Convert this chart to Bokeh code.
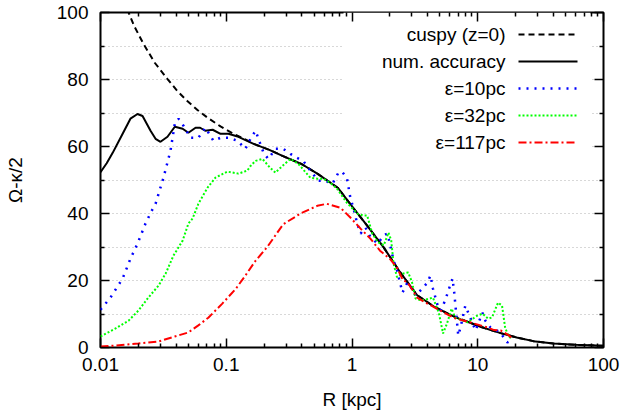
from bokeh.plotting import figure
from bokeh.models import Range1d, FixedTicker, LogAxis, LinearAxis, Label, Arrow, BoxAnnotation
from bokeh.embed import file_html
from bokeh.resources import INLINE

# ---------------- data ----------------
R_cuspy = [0.0163, 0.0185, 0.022, 0.027, 0.034, 0.041, 0.049, 0.059, 0.071, 0.09, 0.114, 0.14, 0.165,
           0.22, 0.28, 0.40, 0.53, 0.77, 1.03, 1.32, 1.79, 2.1, 2.42, 3.3, 4.45, 6.0, 8.3, 10.5,
           15.2, 20.4, 27.7, 40, 60, 100]
y_cuspy = [101.0, 96.0, 90.6, 85.0, 80.2, 76.5, 73.6, 70.9, 68.6, 66.0, 63.8, 62.2, 60.8,
           59.0, 57.2, 54.7, 51.9, 47.7, 41.5, 36.4, 29.8, 25.9, 22.4, 15.6, 12.3, 9.8, 7.7, 6.2,
           4.3, 3.0, 1.9, 1.2, 0.8, 0.5]

R_acc = [0.01, 0.0112, 0.0125, 0.015, 0.0173, 0.0197, 0.0216, 0.025, 0.0274, 0.030, 0.0341, 0.039,
         0.045, 0.050, 0.057, 0.062, 0.068, 0.078, 0.090, 0.104, 0.125, 0.165,
         0.22, 0.28, 0.40, 0.53, 0.77, 1.03, 1.32, 1.79, 2.1, 2.42, 3.3, 4.45, 5.06, 6.0, 7.3, 8.3, 10.5,
         15.2, 20.4, 27.7, 40, 60, 100]
y_acc = [52.3, 55.0, 58.1, 63.8, 68.3, 69.7, 69.1, 64.7, 62.3, 61.4, 62.9, 65.9,
         65.3, 64.1, 65.6, 65.6, 64.7, 65.0, 63.8, 63.8, 62.9, 60.8,
         59.0, 57.2, 54.7, 51.9, 47.7, 41.5, 36.4, 29.8, 25.9, 22.4, 15.6, 12.3, 11.2, 9.8, 8.4, 7.7, 6.2,
         4.3, 3.0, 1.9, 1.2, 0.8, 0.5]

R_e10 = [0.01, 0.012, 0.015, 0.0173, 0.0197, 0.0228, 0.0255, 0.0274, 0.0317, 0.036, 0.039, 0.0417,
         0.0457, 0.0519, 0.060, 0.0684, 0.079, 0.090, 0.104, 0.123, 0.142, 0.156, 0.171, 0.198,
         0.216, 0.246, 0.284, 0.324, 0.366, 0.41, 0.466, 0.54, 0.61, 0.70, 0.78, 0.83, 0.91,
         0.97, 1.03, 1.10, 1.17, 1.28, 1.4, 1.6, 1.79, 1.91, 2.0, 2.14, 2.28, 2.42, 2.52, 2.76,
         3.0, 3.2, 3.69, 3.98, 4.21, 4.4, 4.8, 5.06, 5.5, 6.1, 6.3, 6.5, 6.9, 7.0, 7.3, 7.96,
         8.4, 9.6, 10.9, 11.5, 12.6, 15.0, 17.2, 18.5]
y_e10 = [11.3, 14.9, 20.6, 26.5, 31.0, 37.0, 40.8, 42.9, 50.7, 58.7, 66.8, 68.3,
         66.2, 62.6, 62.6, 65.6, 61.7, 62.6, 62.6, 61.7, 59.3, 62.3, 64.7, 58.1,
         56.3, 59.3, 59.3, 57.8, 56.6, 55.7, 52.8, 49.8, 49.8, 48.9, 52.2, 52.5, 50.7,
         44.7, 41.4, 37.0, 34.0, 35.8, 33.0, 31.0, 33.5, 34.0, 31.0, 26.0, 23.0, 19.1, 16.4, 19.4,
         17.5, 15.5, 17.9, 19.4, 21.5, 17.6, 12.5, 11.0, 14.0, 19.1, 20.6, 16.4, 6.0, 3.6, 6.0, 12.5,
         10.4, 5.1, 10.4, 8.0, 6.0, 4.6, 1.5, 2.1]

R_e32 = [0.01, 0.0132, 0.0167, 0.020, 0.024, 0.029, 0.033, 0.038, 0.045, 0.050, 0.054, 0.060,
         0.071, 0.082, 0.102, 0.125, 0.147, 0.156, 0.171, 0.194, 0.224, 0.246, 0.28, 0.324,
         0.375, 0.466, 0.53, 0.59, 0.67, 0.76, 0.91, 1.11, 1.23, 1.32, 1.45, 1.6, 1.79, 1.95,
         2.05, 2.14, 2.28, 2.5, 2.8, 3.0, 3.2, 3.6, 4.4, 4.9, 5.3, 5.7, 6.2, 6.6, 8.3, 9.9,
         10.9, 12.1, 13.0, 14.5, 15.6, 16.5, 17.2, 18.0, 19.0]
y_e32 = [3.3, 5.7, 8.0, 11.0, 14.9, 18.5, 22.1, 27.4, 31.9, 37.0, 38.5, 42.9,
         47.7, 50.7, 52.5, 51.9, 52.8, 54.2, 55.7, 56.3, 53.6, 52.2, 54.2, 56.3,
         54.8, 50.7, 50.4, 50.4, 49.2, 47.4, 43.2, 39.9, 39.4, 39.4, 34.0, 31.5, 30.5, 34.3,
         32.0, 25.0, 21.0, 22.0, 22.4, 19.5, 14.6, 14.0, 14.9, 10.4, 4.2, 7.2, 11.6, 9.0, 7.5, 9.5,
         10.1, 8.6, 9.0, 13.4, 12.5, 6.0, 4.2, 3.0, 3.0]

R_e117 = [0.01, 0.0132, 0.02, 0.029, 0.039, 0.050, 0.060, 0.072, 0.093, 0.119, 0.142, 0.171,
          0.21, 0.284, 0.39, 0.53, 0.63, 0.81, 0.97, 1.17, 1.4, 1.67, 2.02, 2.28, 2.55, 2.76,
          3.3, 3.98, 5.06, 6.4, 8.7, 11.9, 13.5, 15.2, 17.7, 19.0]
y_e117 = [0.3, 0.6, 1.2, 1.8, 3.3, 4.5, 6.6, 8.9, 13.1, 17.5, 21.5, 25.9,
          29.8, 36.8, 40.0, 42.3, 42.9, 41.7, 38.8, 35.5, 32.5, 28.9, 26.3, 23.8, 20.0, 19.5,
          14.9, 13.1, 11.0, 8.9, 7.5, 6.0, 5.2, 5.1, 3.6, 2.5]

x_major_ticks = [0.01, 0.1, 1, 10, 100]
x_tick_labels = ["0.01", "0.1", "1", "10", "100"]
x_minor_ticks = [m * d for d in [0.01, 0.1, 1, 10] for m in range(2, 10)]
y_major_ticks = [0, 20, 40, 60, 80, 100]
y_minor_ticks = [10, 30, 50, 70, 90]

series_names = ["cuspy (z=0)", "num. accuracy", "\u03b5=10pc", "\u03b5=32pc", "\u03b5=117pc"]

# ---------------- layout helpers ----------------
FONT = "Liberation Sans"
FS = "19px"
L, R_, T, B = 100, 603, 12, 347


def px_x(px):
    return 10 ** (-2 + 4 * (px - L) / (R_ - L))


def px_y(py):
    return 100 * (B - py) / (B - T)


p = figure(width=624, height=418, x_axis_type="log",
           x_range=Range1d(0.01, 100), y_range=Range1d(0, 100),
           output_backend="svg", toolbar_location=None,
           min_border_left=L, min_border_right=624 - R_, min_border_top=T, min_border_bottom=418 - B,
           background_fill_color="white", border_fill_color="white",
           outline_line_color="black", outline_line_width=2)

p.xgrid.grid_line_color = None
p.ygrid.grid_line_color = "#b0b0b0"
p.ygrid.grid_line_dash = "1 3"
p.ygrid.grid_line_width = 1
p.ygrid.minor_grid_line_color = "#b0b0b0"
p.ygrid.minor_grid_line_dash = "1 3"
p.ygrid.minor_grid_line_width = 1

xt = FixedTicker(ticks=x_major_ticks, minor_ticks=x_minor_ticks)
yt = FixedTicker(ticks=y_major_ticks, minor_ticks=y_minor_ticks)


def style_axis(ax, labels=True):
    ax.axis_line_color = None
    ax.major_tick_in = 9
    ax.major_tick_out = 0
    ax.minor_tick_in = 4
    ax.minor_tick_out = 0
    ax.major_tick_line_width = 1.5
    ax.minor_tick_line_width = 1.5
    ax.major_tick_line_color = "black"
    ax.minor_tick_line_color = "black"
    if labels:
        ax.major_label_text_font = FONT
        ax.major_label_text_font_size = FS
        ax.major_label_text_color = "black"
        ax.axis_label_text_font = FONT
        ax.axis_label_text_font_size = FS
        ax.axis_label_text_font_style = "normal"
        ax.axis_label_text_color = "black"
    else:
        ax.major_label_text_font_size = "1px"
        ax.major_label_text_alpha = 0
        ax.major_label_standoff = 0


xa = p.xaxis[0]
xa.ticker = xt
xa.major_label_overrides = {t: s for t, s in zip(x_major_ticks, x_tick_labels)}
xa.axis_label = "R [kpc]"
style_axis(xa)
xa.major_label_standoff = 10
xa.axis_label_standoff = 15

ya = p.yaxis[0]
ya.ticker = yt
ya.axis_label = "\u03a9-\u03ba/2"
style_axis(ya)
ya.major_label_standoff = 12
ya.axis_label_standoff = 28

top = LogAxis(ticker=FixedTicker(ticks=x_major_ticks, minor_ticks=x_minor_ticks))
style_axis(top, labels=False)
p.add_layout(top, "above")
right = LinearAxis(ticker=FixedTicker(ticks=y_major_ticks, minor_ticks=y_minor_ticks))
style_axis(right, labels=False)
p.add_layout(right, "right")

# ---------------- curves ----------------
styles = [
    dict(line_color="black", line_width=2, line_dash="6 4"),
    dict(line_color="black", line_width=2),
    dict(line_color="#0000ff", line_width=2.5, line_dash="2 6"),
    dict(line_color="#00ff00", line_width=2, line_dash="2 2"),
    dict(line_color="#ff0000", line_width=2, line_dash="8 3 2 3"),
]
data = [(R_cuspy, y_cuspy), (R_acc, y_acc), (R_e10, y_e10), (R_e32, y_e32), (R_e117, y_e117)]
for (xs, ys), st in zip(data, styles):
    p.line(xs, ys, **st)

# ---------------- legend (label left, sample right) ----------------
box = BoxAnnotation(left=px_x(343), right=px_x(590), top=100, bottom=px_y(160),
                    fill_color="white", fill_alpha=1, line_color=None, level="underlay")
p.add_layout(box)

row_y = [34, 61, 88, 115, 142]
for name, st, ry in zip(series_names, styles, row_y):
    p.add_layout(Label(x=px_x(505), y=px_y(ry), text=name, text_align="right",
                       text_baseline="middle", text_font=FONT, text_font_size=FS,
                       text_color="black"))
    p.add_layout(Arrow(end=None, x_start=px_x(518), y_start=px_y(ry),
                       x_end=px_x(577), y_end=px_y(ry), **st))

open("out.html", "w").write(file_html(p, INLINE))
